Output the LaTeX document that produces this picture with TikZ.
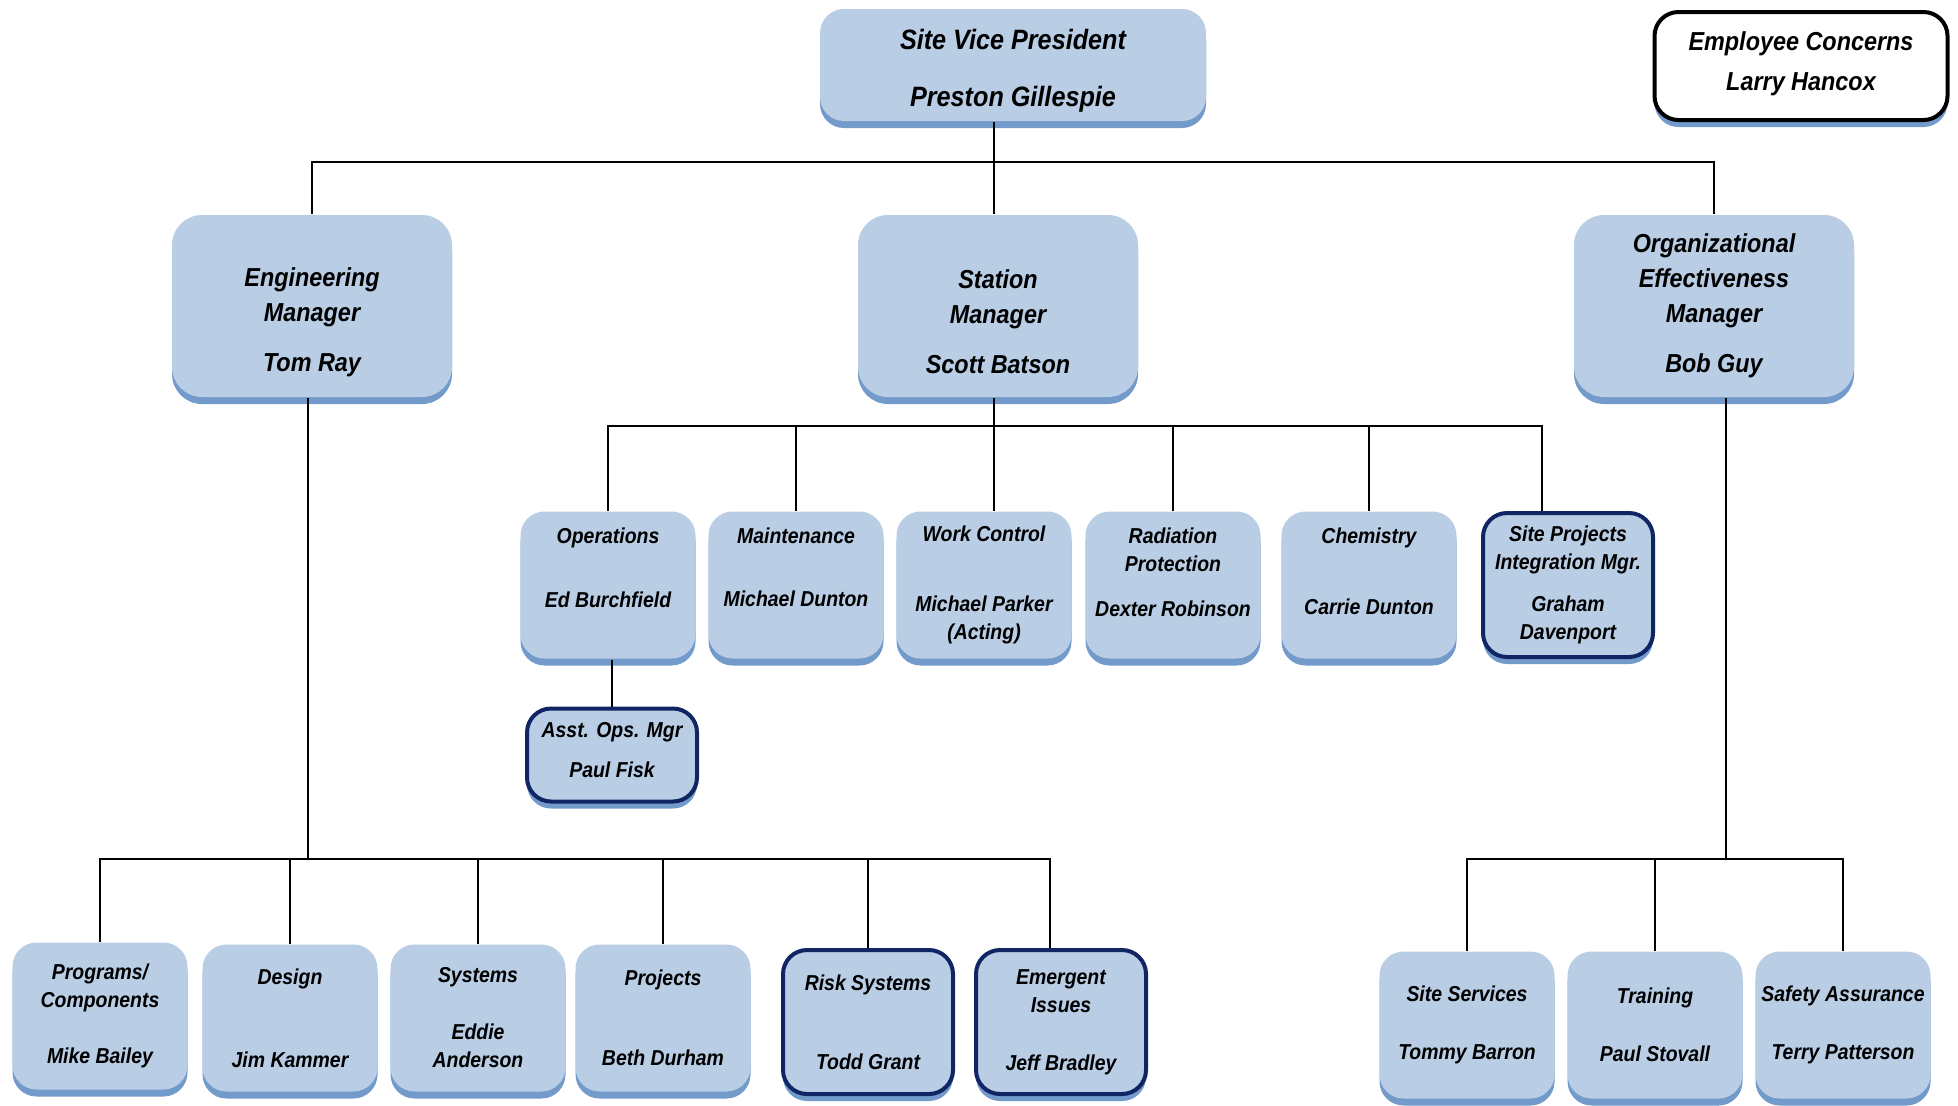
\documentclass[tikz,border=0pt]{standalone}
\usepackage{fontspec}
\setmainfont{Liberation Sans}[FakeStretch=0.9]
\usepackage{xcolor}
\usetikzlibrary{shadows}

\definecolor{boxfill}{RGB}{185,205,229}
\definecolor{navy}{RGB}{16,37,99}
\definecolor{shadowblue}{RGB}{79,129,189}

\begin{document}
\begin{tikzpicture}[x=0.5pt, y=-0.5pt, line width=1pt,
  unit/.style={fill=boxfill,rounded corners=12pt,align=center,inner sep=0pt,
    font=\fontsize{10.8}{14}\selectfont\bfseries\itshape,
    drop shadow={shadow xshift=0pt,shadow yshift=-3.5pt,fill=shadowblue,opacity=.8},
    minimum width=87.5pt,minimum height=73.5pt},
  lead/.style={unit,draw=navy,line width=2pt,minimum width=85pt,minimum height=72pt},
  mgr/.style={unit,rounded corners=15pt,minimum width=140pt,minimum height=91pt,
    font=\fontsize{13}{17.5}\selectfont\bfseries\itshape},
  vpbox/.style={unit,minimum width=193pt,minimum height=56pt,
    font=\fontsize{14}{17}\selectfont\bfseries\itshape},
  ecbox/.style={unit,fill=white,draw=black,line width=2pt,minimum width=146.5pt,minimum height=54pt,
    font=\fontsize{13}{20}\selectfont\bfseries\itshape}]
  \useasboundingbox (0,0) rectangle (1958,1105);

  % top
  \node[vpbox] (vp) at (1013,65) {\mbox{}\\[-1pt]Site Vice President\\[11.5pt]Preston Gillespie};
  \node[ecbox] (ec) at (1801,66) {Employee Concerns\\Larry Hancox\\[-15pt]~};

  % managers
  \node[mgr] (eng) at (312,306) {\mbox{}\\[8pt]Engineering\\Manager\\[7.5pt]Tom Ray};
  \node[mgr] (sta) at (998,306) {\mbox{}\\[8pt]Station\\Manager\\[7.5pt]Scott Batson};
  \node[mgr] (org) at (1714,306) {Organizational\\Effectiveness\\Manager\\[7.5pt]Bob Guy};

  % station departments
  \node[unit] (ops) at (608,585) {Operations\\[18pt]Ed Burchfield\\[3.5pt]~};
  \node[unit] (mnt) at (796,585) {Maintenance\\[17.5pt]Michael Dunton\\[3.5pt]~};
  \node[unit] (wc) at (984,585) {Work Control\\[21pt]Michael Parker\\(Acting)};
  \node[unit] (rad) at (1173,585) {Radiation\\Protection\\[8.5pt]Dexter Robinson\\[-1pt]~};
  \node[unit] (chem) at (1369,585) {Chemistry\\[21.5pt]Carrie Dunton\\[0pt]~};
  \node[lead] (spi) at (1568,585) {Site Projects\\Integration Mgr.\\[7pt]Graham\\Davenport};
  \node[lead,minimum height=46.5pt] (asst) at (612,755) {Asst. Ops. Mgr\\[6pt]Paul Fisk\\[-9pt]~};

  % engineering groups
  \node[unit] (prog) at (100,1016) {Programs/\\Components\\[14pt]Mike Bailey};
  \node[unit] (des) at (290,1018) {Design\\[27.5pt]Jim Kammer};
  \node[unit] (sys) at (478,1018) {Systems\\[14.5pt]Eddie\\Anderson};
  \node[unit] (proj) at (663,1018) {Projects\\[26pt]Beth Durham};
  \node[lead] (risk) at (868,1022) {Risk Systems\\[25.5pt]Todd Grant};
  \node[lead] (emer) at (1061,1022) {Emergent\\Issues\\[15pt]Jeff Bradley};

  % organizational effectiveness groups
  \node[unit] (ss) at (1467,1025) {Site Services\\[15pt]Tommy Barron};
  \node[unit] (tr) at (1655,1025) {Training\\[15pt]Paul Stovall};
  \node[unit] (sa) at (1843,1025) {Safety Assurance\\[15pt]Terry Patterson};

  % connectors
  \coordinate (bus1) at (0,162);
  \coordinate (bus2) at (0,426);
  \coordinate (bus3) at (0,859);
  \draw ([xshift=-2pt]vp.south -| sta.north) -- ([xshift=-2pt]sta.north);
  \draw (eng.north) |- (bus1 -| org) -- (org.north);
  \draw ([xshift=-2pt]sta.south) -- ([xshift=-2pt]sta.south |- wc.north);
  \draw (ops.north) |- ([xshift=-13pt]bus2 -| spi.north) -- ([xshift=-13pt]spi.north);
  \foreach \n in {mnt,rad,chem}
    \draw (\n.north) -- (bus2 -| \n.north);
  \draw (ops.south -| asst.north) -- (asst.north);
  \draw ([xshift=-2pt]eng.south) -- ([xshift=-2pt]bus3 -| eng.south);
  \draw (prog.north) |- ([xshift=-5.5pt]bus3 -| emer.north) -- ([xshift=-5.5pt]emer.north);
  \foreach \n in {des,sys,proj,risk}
    \draw (\n.north) -- (bus3 -| \n.north);
  \draw ([xshift=6pt]org.south) -- ([xshift=6pt]bus3 -| org.south);
  \draw (ss.north) |- (bus3 -| sa.north) -- (sa.north);
  \draw (tr.north) -- (bus3 -| tr.north);
\end{tikzpicture}
\end{document}
